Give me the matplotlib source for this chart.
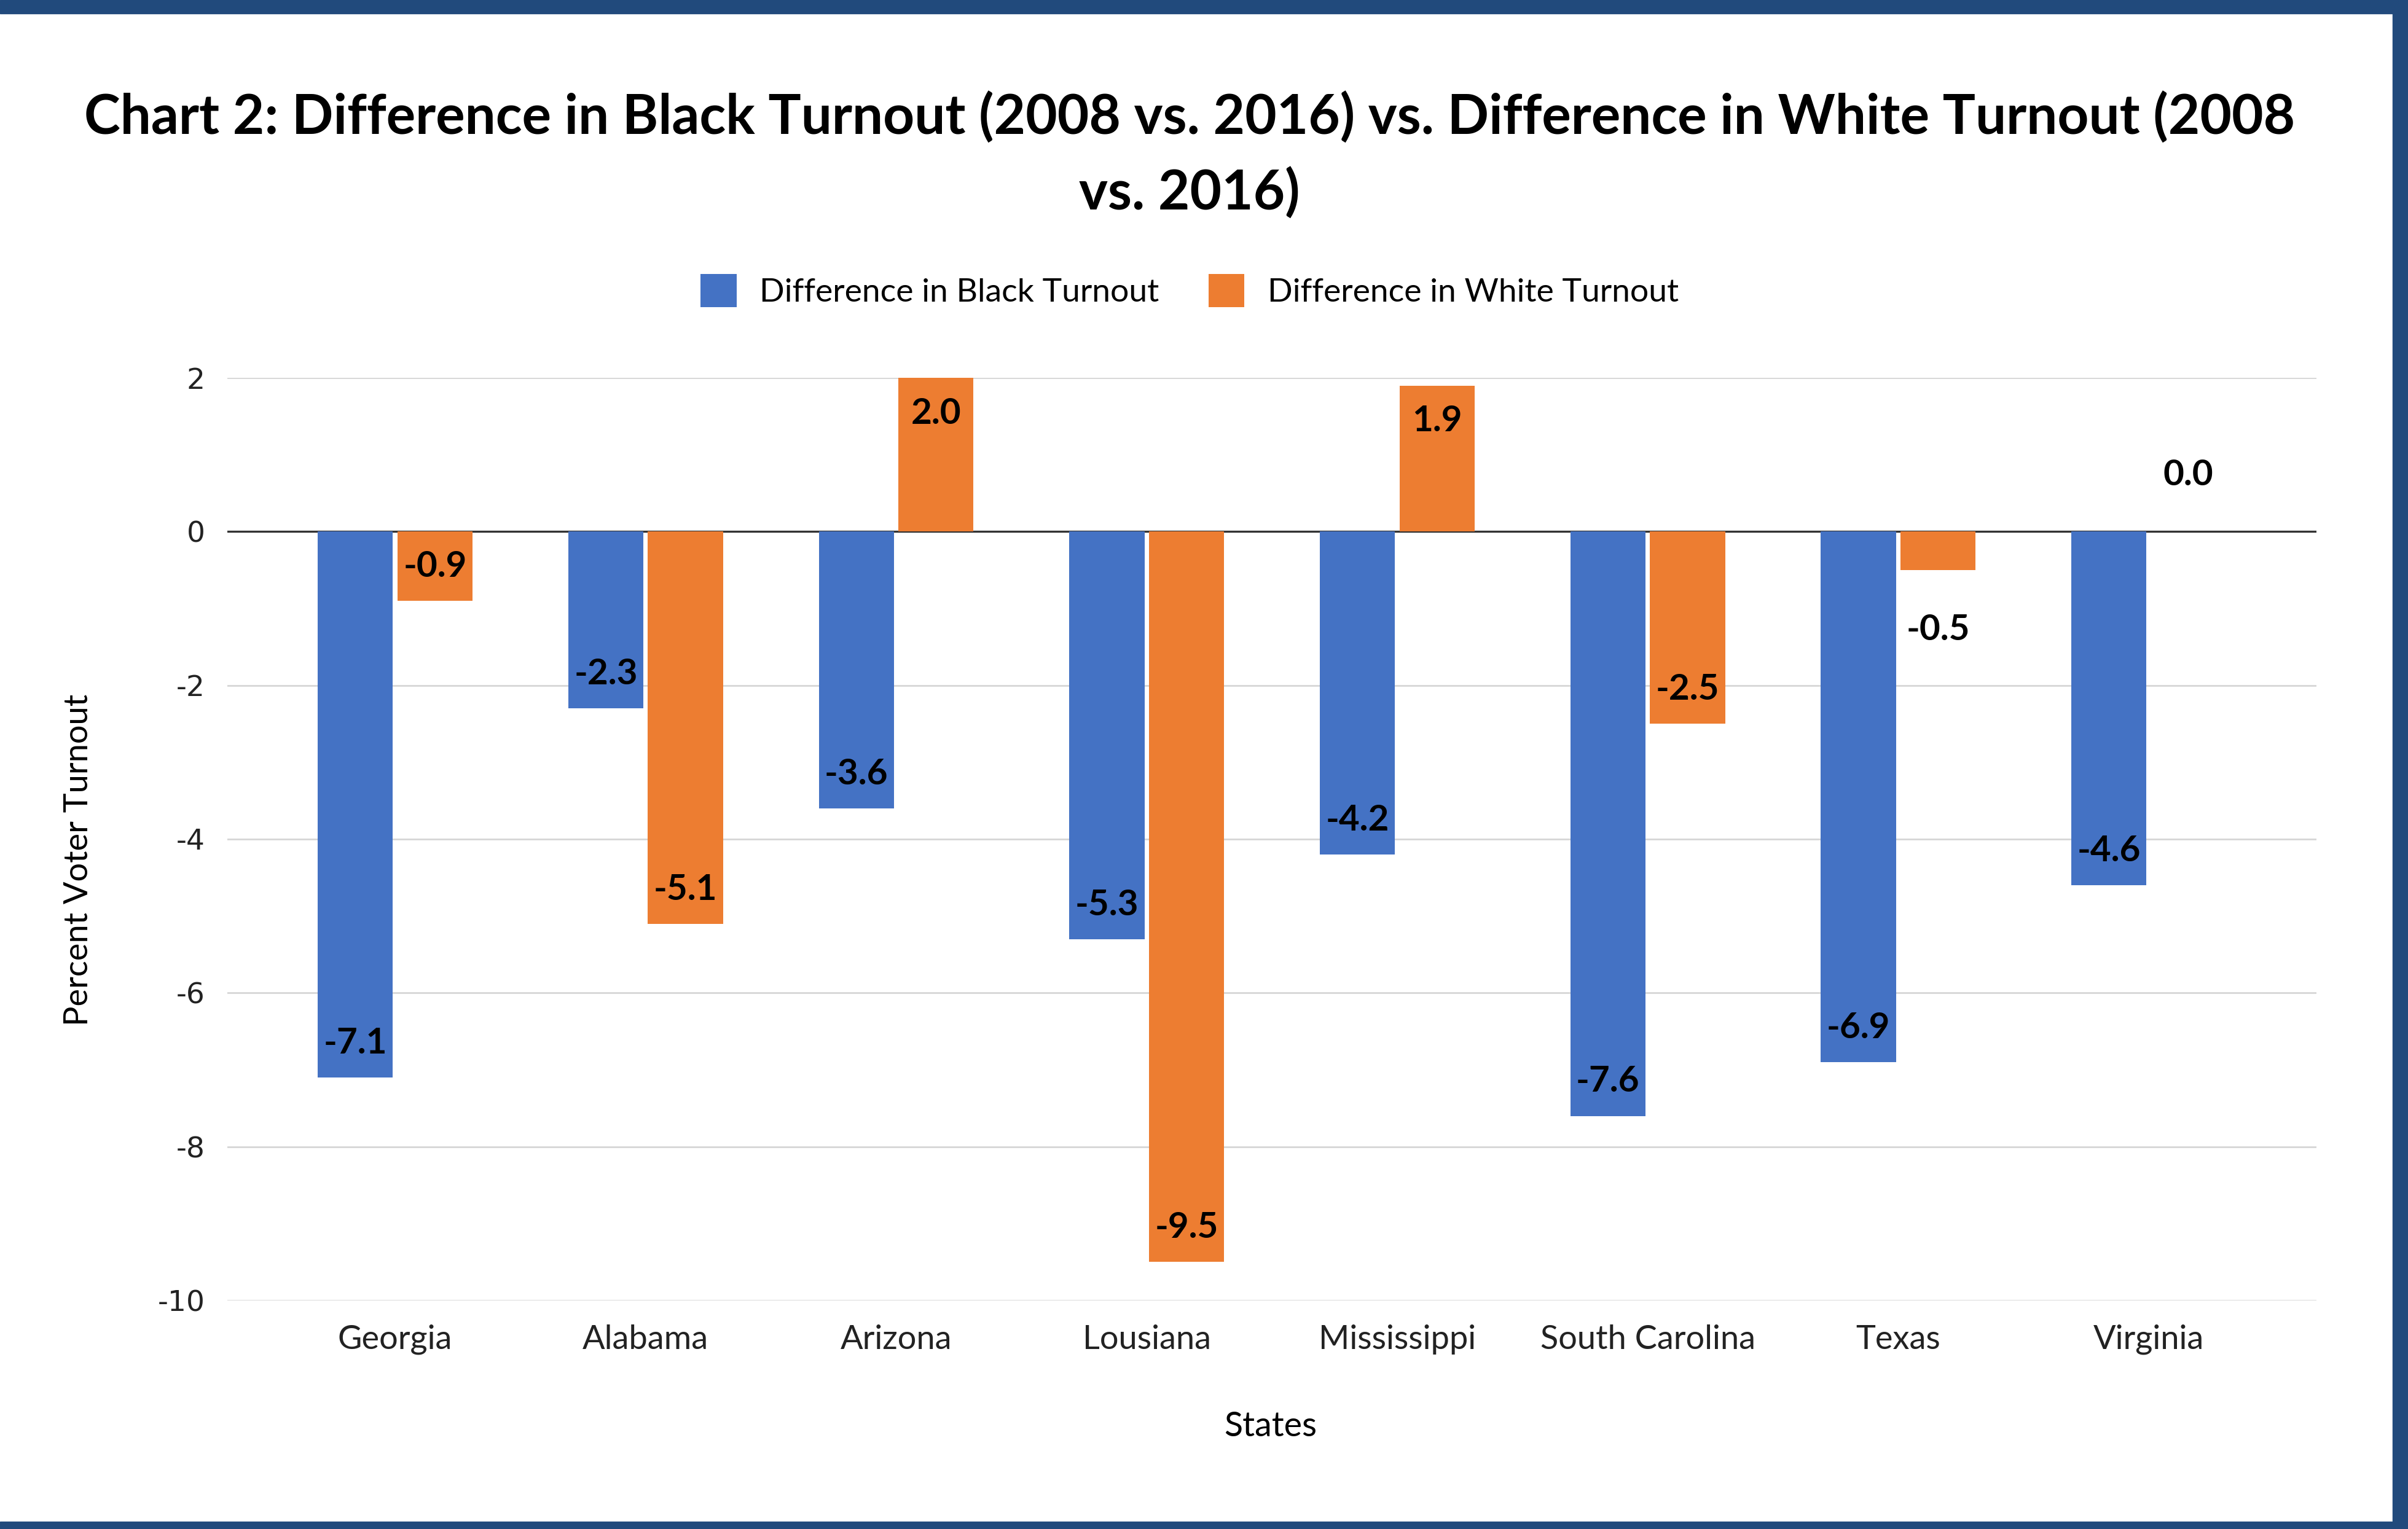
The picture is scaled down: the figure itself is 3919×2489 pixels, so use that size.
import numpy as np
import matplotlib
matplotlib.use('Agg')
import matplotlib.pyplot as plt
from matplotlib.patches import Rectangle, Patch

# Data
states = ['Georgia', 'Alabama', 'Arizona', 'Lousiana', 'Mississippi',
          'South Carolina', 'Texas', 'Virginia']
black_diff = [-7.1, -2.3, -3.6, -5.3, -4.2, -7.6, -6.9, -4.6]
white_diff = [-0.9, -5.1, 2.0, -9.5, 1.9, -2.5, -0.5, 0.0]
series_names = ['Difference in Black Turnout', 'Difference in White Turnout']
y_ticks = [2, 0, -2, -4, -6, -8, -10]

title = 'Chart 2: Difference in Black Turnout (2008 vs. 2016) vs. Difference in White Turnout (2008\nvs. 2016)'

BLUE = '#4472C4'
ORANGE = '#ED7D31'
BORDER = '#214A7C'
FONT = 'Lato'

fig = plt.figure(figsize=(39.19, 24.89), dpi=100)
ax = fig.add_axes([0.0944, 0.1495, 0.8676, 0.6034])

x = np.arange(len(states))
width = 0.30
gap = 0.018
off = (width + gap) / 2

bars_b = ax.bar(x - off, black_diff, width, color=BLUE, label=series_names[0], zorder=3)
bars_w = ax.bar(x + off, white_diff, width, color=ORANGE, label=series_names[1], zorder=3)


def label_bars(bars, values):
    for bar, v in zip(bars, values):
        xc = bar.get_x() + bar.get_width() / 2
        if abs(v) < 0.7:
            # too short to hold its label: put it outside the bar end
            dy = 66 if v >= 0 else -70
        else:
            dy = -42 if v > 0 else 40
        ax.annotate(f'{v:.1f}', xy=(xc, v), xytext=(0, dy), textcoords='offset points',
                    ha='center', va='center', fontsize=42, fontweight='bold',
                    family=FONT, color='black', zorder=4)


label_bars(bars_b, black_diff)
label_bars(bars_w, white_diff)

ax.set_xlim(-0.67, len(states) - 1 + 0.67)
ax.set_ylim(-10, 2)
ax.set_yticks(y_ticks)
ax.set_yticklabels([str(t) for t in y_ticks], fontsize=34, family='DejaVu Sans')
ax.set_xticks(x)
ax.set_xticklabels(states, fontsize=39, family=FONT)
ax.tick_params(axis='both', length=0, colors='#222222')
ax.tick_params(axis='x', pad=28)
ax.tick_params(axis='y', pad=26)

ax.grid(axis='y', color='#D6D6D6', linewidth=2.0, zorder=0)
ax.axhline(0, color='#333333', linewidth=2.4, zorder=2)
for s in ax.spines.values():
    s.set_visible(False)

fig.text(0.494, 0.8985, title, ha='center', va='center', fontsize=64,
         fontweight='bold', family=FONT, linespacing=1.55)

handles = [Patch(facecolor=BLUE), Patch(facecolor=ORANGE)]
fig.legend(handles, series_names, loc='center', bbox_to_anchor=(0.494, 0.810),
           ncol=2, frameon=False, prop={'family': FONT, 'size': 38.5},
           handlelength=1.1, handleheight=1.2, handletextpad=0.7, columnspacing=1.5)

fig.text(0.0325, 0.4375, 'Percent Voter Turnout', rotation=90, ha='center',
         va='center', fontsize=39, family=FONT)
fig.text(0.5276, 0.067, 'States', ha='center', va='center', fontsize=40, family=FONT)

# dark blue frame (top, bottom, right)
for rect in [(0, 1 - 22 / 2489, 1, 22 / 2489),
             (0, 0, 1, 12 / 2489),
             (1 - 25 / 3919, 0, 25 / 3919, 1)]:
    fig.add_artist(Rectangle(rect[:2], rect[2], rect[3], transform=fig.transFigure,
                             color=BORDER, zorder=10))

fig.savefig('out.png', dpi=100, facecolor='white')
